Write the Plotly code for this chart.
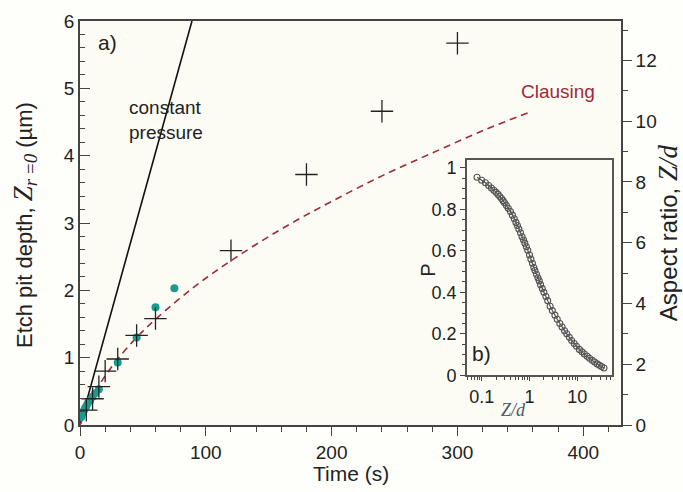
import plotly.graph_objects as go

# Main panel a) data
cross_t = [5, 10, 15, 20, 30, 45, 60, 120, 180, 240, 300]
cross_z = [0.22, 0.39, 0.57, 0.80, 0.98, 1.33, 1.58, 2.59, 3.72, 4.66, 5.67]

dot_t = [1, 2, 3, 4, 5, 6, 8, 10, 12, 15, 30, 45, 60, 75]
dot_z = [0.12, 0.17, 0.21, 0.25, 0.28, 0.32, 0.36, 0.42, 0.47, 0.53, 0.93, 1.30, 1.75, 2.03]

const_t = [0, 89]
const_z = [0, 6]

claus_t = [0, 10, 20, 30, 45, 60, 90, 120, 160, 200, 240, 280, 320, 358]
claus_z = [0, 0.42, 0.73, 0.98, 1.30, 1.57, 2.04, 2.44, 2.91, 3.32, 3.70, 4.04, 4.37, 4.65]

# Inset b) data
ins_x = [0.08, 0.1, 0.12, 0.14, 0.16, 0.18, 0.2, 0.22, 0.24, 0.26, 0.28, 0.3, 0.33, 0.36, 0.4,
         0.44, 0.48, 0.52, 0.56, 0.6, 0.65, 0.7, 0.75, 0.8, 0.86, 0.92, 1.0, 1.07, 1.15, 1.23,
         1.3, 1.4, 1.5, 1.6, 1.7, 1.85, 2.0, 2.2, 2.4, 2.7, 3.0, 3.4, 3.8, 4.3, 4.8, 5.4,
         6.0, 6.8, 7.6, 8.6, 9.6, 11, 12.5, 14, 16, 18, 20.5, 23, 26, 29, 32, 36]
ins_p = [0.955, 0.94, 0.928, 0.915, 0.903, 0.892, 0.882, 0.872, 0.862, 0.852, 0.842, 0.832, 0.818, 0.805, 0.79,
         0.772, 0.755, 0.737, 0.722, 0.705, 0.687, 0.668, 0.652, 0.637, 0.62, 0.603, 0.58, 0.56, 0.54, 0.52,
         0.505, 0.487, 0.47, 0.455, 0.437, 0.418, 0.40, 0.38, 0.36, 0.333, 0.312, 0.29, 0.27, 0.25, 0.233, 0.215,
         0.2, 0.183, 0.168, 0.153, 0.14, 0.125, 0.113, 0.103, 0.092, 0.082, 0.072, 0.064, 0.055, 0.048, 0.042, 0.035]

FONT = "Liberation Sans, Arial, Helvetica, sans-serif"
SERIF = "Liberation Serif, Times New Roman, serif"
AX = "#444444"
RED = "#9e2a3a"
TEAL = "#1c9a8c"
TICK = 19
ITICK = 18

fig = go.Figure()

fig.add_trace(go.Scatter(x=const_t, y=const_z, mode="lines",
                         line=dict(color="#111111", width=1.6), xaxis="x", yaxis="y"))
fig.add_trace(go.Scatter(x=claus_t, y=claus_z, mode="lines", line_shape="spline",
                         line=dict(color=RED, width=1.6, dash="7px,5px"), xaxis="x", yaxis="y"))
fig.add_trace(go.Scatter(x=dot_t, y=dot_z, mode="markers",
                         marker=dict(color=TEAL, size=8, line=dict(width=0)), xaxis="x", yaxis="y"))
fig.add_trace(go.Scatter(x=cross_t, y=cross_z, mode="markers",
                         marker=dict(symbol="cross-thin", size=16, line=dict(color="#222222", width=1.3)),
                         xaxis="x", yaxis="y"))
# dummy for right axis
fig.add_trace(go.Scatter(x=[None], y=[None], xaxis="x", yaxis="y2", showlegend=False))

fig.add_trace(go.Scatter(x=ins_x, y=ins_p, mode="lines+markers",
                         line=dict(color="#555555", width=1.2, shape="spline"),
                         marker=dict(symbol="circle-open", size=6, color="#555555", line=dict(width=1.1)),
                         xaxis="x3", yaxis="y3"))

fig.update_layout(
    width=683, height=492,
    margin=dict(l=80, r=62, t=11, b=67),
    paper_bgcolor="#fefefb", plot_bgcolor="#fcfcf5",
    showlegend=False,
    font=dict(family=FONT, size=TICK, color="#222222"),
    xaxis=dict(range=[0, 430], domain=[0, 1], showline=True, linecolor=AX, linewidth=1.6,
               mirror=True, ticks="outside", ticklen=9, tickwidth=1.4, tickcolor=AX,
               dtick=100, tick0=0, showgrid=False, zeroline=False,
               minor=dict(dtick=20, ticks="outside", ticklen=5, tickcolor=AX, tickwidth=1.2),
               tickfont=dict(size=TICK)),
    yaxis=dict(range=[0, 6], domain=[0, 1], showline=True, linecolor=AX, linewidth=1.6,
               ticks="inside", ticklen=10, tickwidth=1.4, tickcolor=AX,
               dtick=1, tick0=0, showgrid=False, zeroline=False,
               minor=dict(dtick=0.2, ticks="inside", ticklen=5, tickcolor=AX, tickwidth=1.2),
               tickfont=dict(size=TICK)),
    yaxis2=dict(range=[0, 13.3], overlaying="y", side="right", anchor="x",
                showline=True, linecolor=AX, linewidth=1.6,
                ticks="outside", ticklen=9, tickwidth=1.4, tickcolor=AX,
                dtick=2, tick0=0, showgrid=False, zeroline=False,
                minor=dict(dtick=1, ticks="outside", ticklen=5, tickcolor=AX, tickwidth=1.2),
                tickfont=dict(size=TICK)),
    xaxis3=dict(type="log", range=[-1.31, 1.72], domain=[0.715, 0.983], anchor="y3",
                showline=True, linecolor="#555555", linewidth=1.5, mirror=True,
                ticks="outside", ticklen=4, tickwidth=1.2, tickcolor=AX,
                tickvals=[0.1, 1, 10], ticktext=["0.1", "1", "10"],
                minor=dict(ticks="outside", ticklen=3, tickcolor=AX, tickwidth=1,
                           tickvals=[0.05, 0.06, 0.07, 0.08, 0.09, 0.2, 0.3, 0.4, 0.5, 0.6, 0.7, 0.8, 0.9,
                                     2, 3, 4, 5, 6, 7, 8, 9, 20, 30, 40, 50]),
                showgrid=False, zeroline=False, tickfont=dict(size=ITICK)),
    yaxis3=dict(range=[0, 1.04], domain=[0.123, 0.657], anchor="x3",
                showline=True, linecolor="#555555", linewidth=1.5, mirror=True,
                ticks="outside", ticklen=5, tickwidth=1.2, tickcolor=AX,
                tickvals=[0, 0.2, 0.4, 0.6, 0.8, 1], ticktext=["0", "0.2", "0.4", "0.6", "0.8", "1"],
                minor=dict(dtick=0.05, ticks="outside", ticklen=3, tickcolor=AX, tickwidth=1),
                showgrid=False, zeroline=False, tickfont=dict(size=ITICK)),
)

ann = [
    dict(x=0.05, y=0.948, text="a)", font=dict(size=21)),
    dict(x=0.087, y=0.755, text="constant<br>pressure", xanchor="left", align="left", font=dict(size=19)),
    dict(x=0.884, y=0.826, text="Clausing", font=dict(size=19, color=RED)),
    dict(x=0.742, y=0.176, text="b)", font=dict(size=21)),
    dict(x=0.802, y=0.036, text="<i>Z/d</i>", font=dict(size=18, family=SERIF, color="#4a5a6a")),
    dict(x=0.643, y=0.384, text="P", textangle=-90, font=dict(size=20)),
    dict(x=-0.1035, y=0.495, textangle=-90,
         text="Etch pit depth, <span style='font-family:Liberation Serif;font-size:27px'><i>Z</i></span>"
              "<sub><span style='font-family:Liberation Serif;font-size:19px'><i>r </i>=<i>0</i></span></sub> (µm)",
         font=dict(size=22)),
    dict(x=1.087, y=0.475, textangle=-90,
         text="Aspect ratio, <span style='font-family:Liberation Serif;font-size:27px'><i>Z/d</i></span>",
         font=dict(size=24)),
    dict(x=0.5, y=-0.12, text="Time (s)", font=dict(size=21)),
]
for a in ann:
    a.setdefault("xanchor", "center")
    a.setdefault("yanchor", "middle")
    a.update(xref="paper", yref="paper", showarrow=False)
    fig.add_annotation(**a)

fig.write_html("out.html", config={"displayModeBar": False},
               post_script="document.body.style.margin='0px';")
